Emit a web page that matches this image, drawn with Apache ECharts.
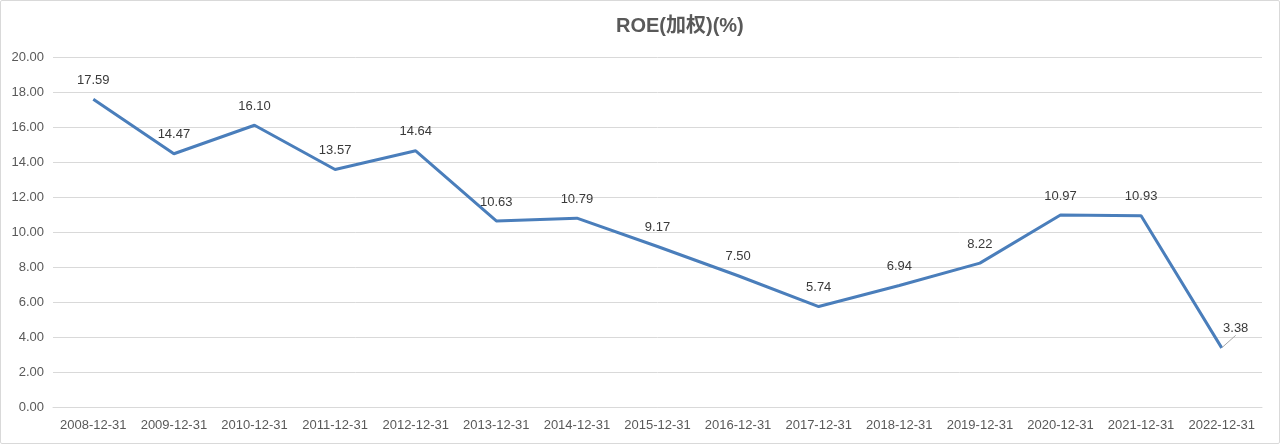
<!DOCTYPE html>
<html>
<head>
<meta charset="utf-8">
<script src="https://cdn.jsdelivr.net/npm/echarts@6/dist/echarts.min.js"></script>
<style>
html,body{margin:0;padding:0;background:#fff;}
#chart{width:1280px;height:444px;box-sizing:border-box;border:1px solid #d9d9d9;border-radius:2px;}
</style>
</head>
<body>
<div id="chart"></div>
<script>
const titleText = 'ROE(加权)(%)';
const categories = ['2008-12-31','2009-12-31','2010-12-31','2011-12-31','2012-12-31','2013-12-31','2014-12-31','2015-12-31','2016-12-31','2017-12-31','2018-12-31','2019-12-31','2020-12-31','2021-12-31','2022-12-31'];
const roeValues = [17.59,14.47,16.10,13.57,14.64,10.63,10.79,9.17,7.50,5.74,6.94,8.22,10.97,10.93,3.38];
const yMin = 0, yMax = 20, yStep = 2;

const chart = echarts.init(document.getElementById('chart'));
const lastIdx = roeValues.length - 1;
const seriesData = roeValues.map((v, i) => i === lastIdx
  ? { value: v, labelLine: { show: true, lineStyle: { color: '#a6a6a6', width: 1 } } }
  : { value: v });
chart.setOption({
  animation: false,
  textStyle: { fontFamily: '"Liberation Sans", Arial, Helvetica, sans-serif' },
  title: {
    text: titleText,
    left: 610,
    top: 10,
    textStyle: { fontSize: 20, fontWeight: 'bold', color: '#595959', fontFamily: '"Liberation Sans", "Noto Sans CJK SC", sans-serif' }
  },
  grid: { left: 52, right: 17, top: 56, bottom: 36 },
  xAxis: {
    type: 'category',
    data: categories,
    boundaryGap: true,
    axisLine: { show: true, lineStyle: { color: '#d9d9d9', width: 1 } },
    axisTick: { show: false },
    axisLabel: { color: '#595959', fontSize: 13, margin: 12, interval: 0 }
  },
  yAxis: {
    type: 'value',
    min: yMin, max: yMax, interval: yStep,
    axisLine: { show: false },
    axisTick: { show: false },
    axisLabel: { color: '#595959', fontSize: 13, margin: 9, formatter: v => v.toFixed(2) },
    splitLine: { lineStyle: { color: '#d9d9d9', width: 1 } }
  },
  series: [{
    type: 'line',
    data: seriesData,
    showSymbol: true,
    symbol: 'circle',
    symbolSize: 1,
    itemStyle: { color: 'rgba(74,126,187,0)' },
    lineStyle: { color: '#4a7ebb', width: 3 },
    label: {
      show: true,
      position: 'top',
      distance: 12,
      color: '#3a3a3a',
      fontSize: 13,
      formatter: p => p.value.toFixed(2)
    },
    labelLine: { show: false },
    labelLayout: function (p) {
      if (p.dataIndex === lastIdx) {
        return { dx: 14, dy: 0 };
      }
      return {};
    }
  }]
});
</script>
</body>
</html>
